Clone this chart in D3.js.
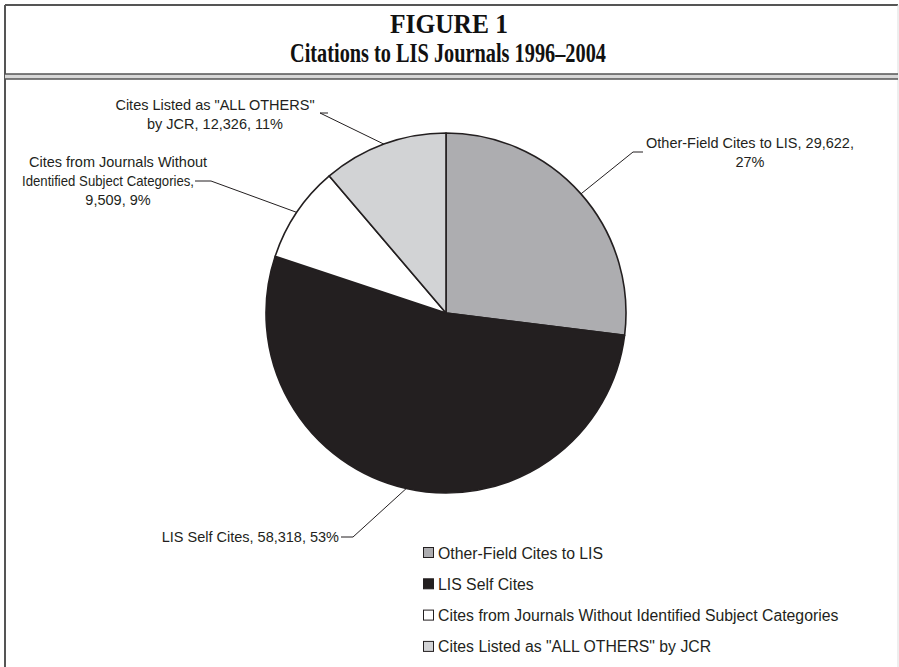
<!DOCTYPE html>
<html>
<head>
<meta charset="utf-8">
<script src="https://cdn.jsdelivr.net/npm/d3@7"></script>
<style>
  body { margin: 0; background: #fff; }
  svg { display: block; }
</style>
</head>
<body>
<div id="chart"></div>
<script>
// data
const categories = [
  'Other-Field Cites to LIS',
  'LIS Self Cites',
  'Cites from Journals Without Identified Subject Categories',
  'Cites Listed as "ALL OTHERS" by JCR'
];
const cites = [29622, 58318, 9509, 12326];
const percents = ['27%', '53%', '9%', '11%'];
const fills = ['#adadb0', '#231f20', '#ffffff', '#d2d3d5'];

// label text lines as wrapped in the original
const labelLines = [
  ['Other-Field Cites to LIS, 29,622,', '27%'],
  ['LIS Self Cites, 58,318, 53%'],
  ['Cites from Journals Without', 'Identified Subject Categories,', '9,509, 9%'],
  ['Cites Listed as "ALL OTHERS"', 'by JCR, 12,326, 11%']
];

const config = {
  width: 899,
  height: 667,
  cx: 446,
  cy: 313,
  radius: 180,
  labelFont: 14.5,
  legendFont: 15.8,
  lineHeight: 19
};

// label layout: text centre, first baseline, leader elbow
const labelLayout = [
  {x: 750, y: 148, dx: [0, 0], elbow: [633, 152], end: [643, 152]},
  {x: 250, y: 542, dx: [0], elbow: [353, 537], end: [341, 537], anchor: 'end', ax: 339},
  {x: 118, y: 167, dx: [0, -10, 0], len: [null, 172, null], elbow: [211, 181], end: [195, 181]},
  {x: 215, y: 110, dx: [0, 0], elbow: [320, 113], end: [328, 113]}
];

const svg = d3.select('#chart').append('svg')
  .attr('width', config.width)
  .attr('height', config.height);

// frame
const frame = svg.append('g').attr('fill', 'none');
frame.append('line').attr('x1', 5).attr('y1', 5).attr('x2', 898).attr('y2', 5)
  .attr('stroke', '#555').attr('stroke-width', 2);
frame.append('line').attr('x1', 5).attr('y1', 5).attr('x2', 5).attr('y2', 667)
  .attr('stroke', '#555').attr('stroke-width', 2);
frame.append('line').attr('x1', 898).attr('y1', 5).attr('x2', 898).attr('y2', 667)
  .attr('stroke', '#ddd').attr('stroke-width', 1);
frame.append('rect').attr('x', 5).attr('y', 74).attr('width', 893).attr('height', 5)
  .attr('fill', '#d8d8d8');
frame.append('line').attr('x1', 5).attr('y1', 74).attr('x2', 898).attr('y2', 74)
  .attr('stroke', '#555').attr('stroke-width', 1.5);
frame.append('line').attr('x1', 5).attr('y1', 79).attr('x2', 898).attr('y2', 79)
  .attr('stroke', '#555').attr('stroke-width', 1.5);

// title
const title = svg.append('g')
  .attr('font-family', '"Liberation Serif", "Times New Roman", serif')
  .attr('font-weight', 'bold')
  .attr('fill', '#111')
  .attr('text-anchor', 'middle');
title.append('text').attr('x', 449).attr('y', 33).attr('font-size', 27)
  .attr('textLength', 118).attr('lengthAdjust', 'spacingAndGlyphs')
  .text('FIGURE 1');
title.append('text').attr('x', 448).attr('y', 62).attr('font-size', 27)
  .attr('textLength', 316).attr('lengthAdjust', 'spacingAndGlyphs')
  .text('Citations to LIS Journals 1996\u20132004');

// pie
const pie = d3.pie().sort(null).value(d => d);
const arcs = pie(cites);
const arc = d3.arc().innerRadius(0).outerRadius(config.radius);
const edgeArc = d3.arc().innerRadius(config.radius).outerRadius(config.radius);

const pieG = svg.append('g').attr('transform', `translate(${config.cx},${config.cy})`);
pieG.selectAll('path')
  .data(arcs)
  .enter()
  .append('path')
  .attr('d', arc)
  .attr('fill', (d, i) => fills[i])
  .attr('stroke', '#231f20')
  .attr('stroke-width', 1.6)
  .attr('stroke-linejoin', 'round');

// leader lines
const leaders = svg.append('g')
  .attr('fill', 'none')
  .attr('stroke', '#231f20')
  .attr('stroke-width', 1);
arcs.forEach((d, i) => {
  const c = edgeArc.centroid(d);
  const p = [config.cx + c[0], config.cy + c[1]];
  const l = labelLayout[i];
  leaders.append('path').attr('d', d3.line()([p, l.elbow, l.end]));
});

// labels
const labels = svg.append('g')
  .attr('font-family', '"Liberation Sans", Arial, sans-serif')
  .attr('font-size', config.labelFont)
  .attr('fill', '#231f20');
labelLines.forEach((lines, i) => {
  const l = labelLayout[i];
  const t = labels.append('text')
    .attr('text-anchor', l.anchor || 'middle');
  lines.forEach((s, j) => {
    const span = t.append('tspan')
      .attr('x', (l.ax || l.x) + l.dx[j])
      .attr('y', l.y + j * config.lineHeight)
      .text(s);
    if (l.len && l.len[j]) {
      span.attr('textLength', l.len[j]).attr('lengthAdjust', 'spacingAndGlyphs');
    }
  });
});

// legend
const legend = svg.append('g')
  .attr('transform', 'translate(423,547)')
  .attr('font-family', '"Liberation Sans", Arial, sans-serif')
  .attr('font-size', config.legendFont)
  .attr('fill', '#231f20');
const rows = legend.selectAll('g')
  .data(categories)
  .enter()
  .append('g')
  .attr('transform', (d, i) => `translate(0,${i * 31.3})`);
rows.append('rect')
  .attr('x', 0.5).attr('y', 0.5)
  .attr('width', 10).attr('height', 10)
  .attr('fill', (d, i) => fills[i])
  .attr('stroke', '#231f20')
  .attr('stroke-width', 1);
rows.append('text')
  .attr('x', 15)
  .attr('y', 11.5)
  .text(d => d);
</script>
</body>
</html>
